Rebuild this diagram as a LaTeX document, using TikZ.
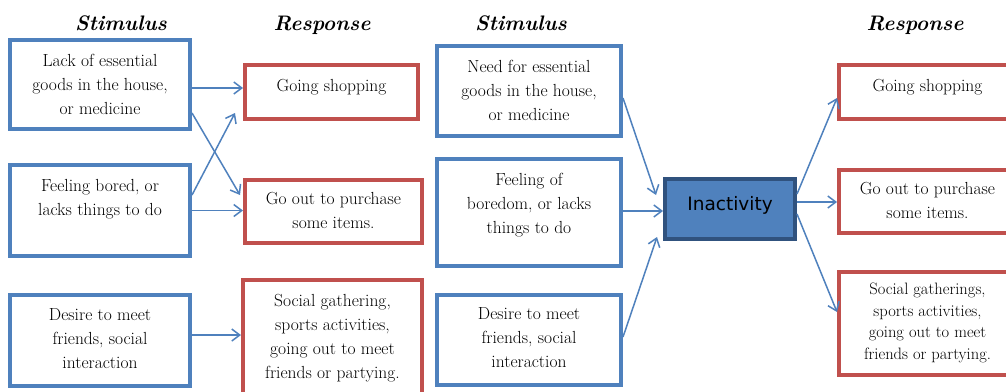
\documentclass[tikz,border=0pt]{standalone}
\usepackage{fontspec}
\newfontfamily\inactfont{DejaVu Sans}
\usetikzlibrary{arrows.meta}
\definecolor{stimblue}{HTML}{4F81BD}
\definecolor{respred}{HTML}{C0504D}
\definecolor{inactedge}{HTML}{30527E}
% text set at the top of a box of fixed size
\newcommand{\boxtext}[4][14pt]{\parbox[c][#3][t]{#2}{\centering\vspace*{#1}#4}}
\begin{document}
\begin{tikzpicture}
      [x=1pt, y=-1pt,
       box/.style={draw, line width=4pt, inner sep=0pt, font=\fontsize{17.5pt}{24pt}\selectfont},
       stim/.style={box, draw=stimblue},
       resp/.style={box, draw=respred},
       head/.style={anchor=base, font=\fontsize{21pt}{24pt}\selectfont\bfseries\itshape},
       arr/.style={draw=stimblue, line width=1.5pt, -{Straight Barb[length=8pt,width=12pt]}}]
      \useasboundingbox (0, 0) rectangle (1006, 391);
      \fill[white] (0, 0) rectangle (1006, 391);
      \clip (0, 0) rectangle (1006, 391);
      % column titles
      \node[head](h1) at (121, 30) {Stimulus};
      \node[head](h2) at (322, 30) {Response};
      \node[head](h3) at (521, 30) {Stimulus};
      \node[head](h4) at (915, 30) {Response};
      % first diagram
      \node[stim](s1) at (100, 84.5) {\boxtext{180pt}{89pt}{Lack of essential\\goods in the house,\\or medicine}};
      \node[stim](s2) at (100, 210.5) {\boxtext{180pt}{91pt}{Feeling bored, or\\lacks things to do}};
      \node[stim](s3) at (100, 340.5) {\boxtext{180pt}{91pt}{Desire to meet\\friends, social\\interaction}};
      \node[resp](r1) at (331.5, 92) {\boxtext{173pt}{54pt}{Going shopping}};
      \node[resp](r2) at (333.5, 211.5) {\boxtext[12.5pt]{177pt}{63pt}{Go out to purchase\\some items.}};
      \node[resp](r3) at (332.5, 339) {\boxtext{179pt}{118pt}{Social gathering,\\sports activities,\\going out to meet\\friends or partying.}};
      \draw[arr]([yshift=-3.5pt]s1.east) -- ([yshift=-3.5pt]s1.east -| r1.west);
      \draw[arr]([yshift=-28.5pt]s1.east) -- ([xshift=-3pt, yshift=16.5pt]r2.west);
      \draw[arr]([yshift=15.5pt]s2.east) -- ([xshift=-8pt, yshift=-21pt]r1.west);
      \draw[arr](s2.east) -- (s2.east -| r2.west);
      \draw[arr]([yshift=5.5pt]s3.east) -- ([yshift=5.5pt]s3.east -| r3.west);
      % second diagram
      \node[stim](s4) at (529, 91) {\boxtext{184pt}{90pt}{Need for essential\\goods in the house,\\or medicine}};
      \node[stim](s5) at (529, 212.5) {\boxtext{184pt}{107pt}{Feeling of\\boredom, or lacks\\things to do}};
      \node[stim](s6) at (529, 340) {\boxtext[13pt]{184pt}{90pt}{Desire to meet\\friends, social\\interaction}};
      \node[box, draw=inactedge, fill=stimblue](inact) at (730, 209)
            {\boxtext[17pt]{130pt}{60pt}{\inactfont\fontsize{18.5pt}{22pt}\selectfont Inactivity}};
      \node[resp](r4) at (927.5, 92) {\boxtext{177pt}{54pt}{Going shopping}};
      \node[resp](r5) at (927.5, 201.5) {\boxtext[12.5pt]{177pt}{63pt}{Go out to purchase\\some items.}};
      \node[resp, font=\fontsize{16.5pt}{21.5pt}\selectfont](r6) at (927.5, 323.5)
            {\boxtext[11pt]{177pt}{103pt}{Social gatherings,\\sports activities,\\going out to meet\\friends or partying.}};
      \draw[arr]([yshift=-7pt]s4.east) -- ([xshift=-7pt, yshift=14pt]inact.west);
      \draw[arr]([yshift=1.5pt]s5.east) -- ([yshift=1.5pt]s5.east -| inact.west);
      \draw[arr]([yshift=3pt]s6.east) -- ([xshift=-6pt, yshift=-28pt]inact.west);
      \draw[arr]([yshift=15pt]inact.east) -- ([yshift=-6pt]r4.west);
      \draw[arr]([yshift=7pt]inact.east) -- ([yshift=7pt]inact.east -| r5.west);
      \draw[arr]([yshift=-5pt]inact.east) -- ([yshift=11.5pt]r6.west);
  \end{tikzpicture}
\end{document}
